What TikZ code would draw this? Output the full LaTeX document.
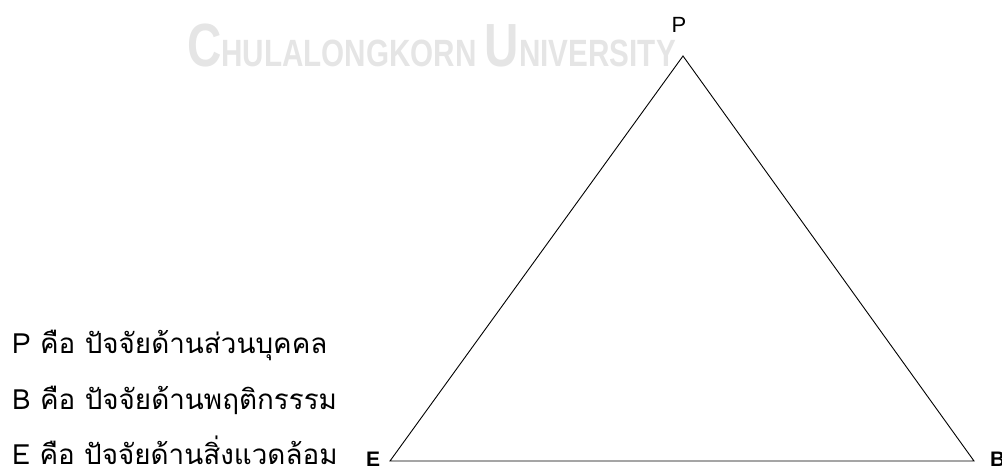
\documentclass[tikz,border=0pt]{standalone}
\usepackage{fontspec}
\setmainfont{Liberation Sans}
\newfontfamily\thaifont[Script=Thai]{Loma}
\newfontfamily\wmfont{Liberation Sans}
\newcommand{\wmbig}{\fontsize{61}{61}\selectfont}
\newcommand{\wmsmall}{\fontsize{38}{38}\selectfont}
\begin{document}
\begin{tikzpicture}[x=1pt,y=-1pt,
  vlabel/.style={inner sep=0pt,font=\fontsize{22}{22}\selectfont},
  vbold/.style={inner sep=0pt,font=\bfseries\fontsize{21}{21}\selectfont},
  legend/.style={anchor=base west,inner sep=0pt,font=\thaifont\fontsize{27.8}{28}\selectfont},
  edge/.style={draw=black,line width=0.9pt}]
\useasboundingbox (0,0) rectangle (1002,468);
% watermark
\node[anchor=base west,inner sep=0pt,text=black!10,xscale=0.78,
  font=\wmfont\bfseries] (wm) at (187,67)
  {\wmbig C\wmsmall HULALONGKORN \wmbig U\wmsmall NIVERSITY};
% triangle
\coordinate (p) at (683,56);
\coordinate (e) at (390,461);
\coordinate (b) at (974,461);
\draw[edge] (p) -- (e) -- (b) -- cycle;
% vertex labels
\node[vlabel,anchor=base] (lp) at (679,33) {P};
\node[vbold,anchor=base west] (le) at (366,466) {E};
\node[vbold,anchor=base west] (lb) at (990,466) {B};
% legend
\node[legend] (t1) at (12,353) {P คือ ปัจจัยด้านส่วนบุคคล};
\node[legend] (t2) at (12,409) {B คือ ปัจจัยด้านพฤติกรรรม};
\node[legend] (t3) at (12,464) {E คือ ปัจจัยด้านสิ่งแวดล้อม};
\end{tikzpicture}
\end{document}
